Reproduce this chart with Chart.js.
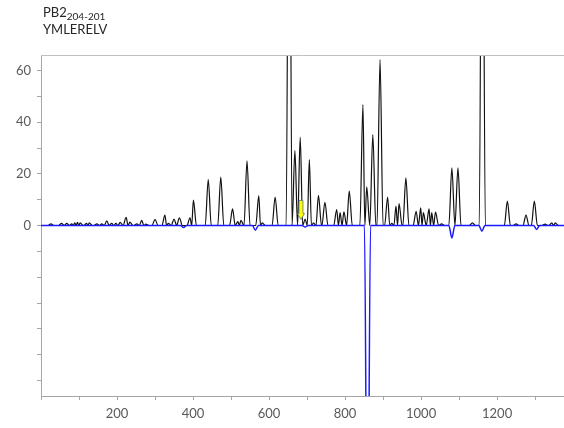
<!DOCTYPE html>
<html><head><meta charset="utf-8">
<script src="https://cdn.jsdelivr.net/npm/chart.js@4/dist/chart.umd.min.js"></script>
<style>
html,body{margin:0;padding:0;background:#fff;}
#wrap{position:relative;width:564px;height:428px;overflow:hidden;}
#title{position:absolute;left:43px;top:4px;font-family:Lato,'Open Sans',sans-serif;font-size:13px;line-height:16px;color:#262626;}
#title .sub{font-size:10px;position:relative;top:3px;}
canvas{position:absolute;left:0;top:0;}
</style></head>
<body><div id="wrap"><canvas id="c" width="564" height="428"></canvas>
<div id="title">PB2<span class="sub">204-201</span><br>YMLERELV</div></div>
<script>
// ---- data ----
const peakPos = [26,54,68,81,89,96,103,120,127,147,160,173,186,197,208,224,234,252,265,276,300,326,335,350,364,392,401,440,473,504,518,526,542,573,582,616,653,668,682,695,706,717,730,747,778,787,797,811,847,857,873,892,912,923,934,942,960,987,999,1006,1021,1028,1038,1054,1081,1097,1135,1161,1227,1250,1276,1298,1326,1344,1353];
const peakHeight = [0.6,0.8,0.8,0.6,1.0,1.2,1.0,0.8,1.0,0.6,0.6,1.8,0.8,0.8,1.2,3.2,1.3,0.6,2.0,0.5,2.4,4.0,0.8,2.5,3.0,3.0,9.8,17.8,18.7,6.4,1.5,2.0,25.0,11.6,1.0,11.0,200,29.0,34.2,2.5,25.5,1.0,11.7,9.0,6.2,5.0,5.3,13.3,46.8,15.0,35.2,64.2,11.0,0.8,7.5,8.5,18.4,5.5,6.8,5.0,6.4,5.0,5.2,0.6,22.3,22.3,1.0,200,9.4,0.6,4.0,9.4,0.5,1.0,1.0];
const dipPos = [375,564,695,859,1081,1160,1304];
const dipDepth = [-0.8,-1.8,-0.6,-150,-4.8,-2.2,-1.5];
const xTicks = [0,100,200,300,400,500,600,700,800,900,1000,1100,1200,1300];
const xLabels = [200,400,600,800,1000,1200];
const yTicks = [-60,-50,-40,-30,-20,-10,0,10,20,30,40,50,60];
const yLabels = [0,20,40,60];
const arrowX = 684, arrowTop = 9.7, arrowBottom = 2.3;

// ---- build traces ----
const HALF = 8, XMIN = 0, XMAX = 1376;
function buildTrace(pos, val){
  const pts = [{x:XMIN,y:0}];
  for(let i=0;i<pos.length;i++){
    const l = pos[i]-HALF, r = pos[i]+HALF;
    const last = pts[pts.length-1];
    if(i>0 && l <= last.x){
      last.x = (pos[i-1]+pos[i])/2; last.y = 0;
    } else {
      pts.push({x:l,y:0});
    }
    pts.push({x:pos[i],y:val[i]});
    pts.push({x:r,y:0});
  }
  pts.push({x:XMAX,y:0});
  return pts;
}

const arrowPlugin = {
  id:'arrow',
  afterDatasetsDraw(chart){
    const {ctx, scales:{x,y}, chartArea} = chart;
    ctx.save();
    ctx.strokeStyle = '#bfbfbf'; ctx.lineWidth = 1;
    ctx.beginPath(); ctx.moveTo(chartArea.left, chartArea.top+0.5); ctx.lineTo(chartArea.right, chartArea.top+0.5); ctx.stroke();
    const cx = x.getPixelForValue(arrowX);
    const yt = y.getPixelForValue(arrowTop), yb = y.getPixelForValue(arrowBottom);
    const hh = 6, sw = 2, hw = 3.5;
    ctx.beginPath();
    ctx.moveTo(cx-sw, yt); ctx.lineTo(cx+sw, yt); ctx.lineTo(cx+sw, yb-hh); ctx.lineTo(cx+hw, yb-hh);
    ctx.lineTo(cx, yb); ctx.lineTo(cx-hw, yb-hh); ctx.lineTo(cx-sw, yb-hh); ctx.closePath();
    ctx.fillStyle = '#ffff00'; ctx.fill();
    ctx.strokeStyle = '#5a7390'; ctx.lineWidth = 0.8; ctx.stroke();
    ctx.restore();
  }
};

Chart.defaults.font.family = "Lato, 'Open Sans', sans-serif";
new Chart(document.getElementById('c'), {
  type:'line',
  data:{datasets:[
    {data:buildTrace(dipPos, dipDepth), borderColor:'#1a1aff', borderWidth:1.5, pointRadius:0, cubicInterpolationMode:'monotone', order:0},
    {data:buildTrace(peakPos, peakHeight), borderColor:'#111111', borderWidth:1.2, pointRadius:0, cubicInterpolationMode:'monotone', order:1}
  ]},
  options:{
    responsive:false, animation:false, devicePixelRatio:1,
    layout:{padding:{top:55,right:0,left:0,bottom:0}},
    plugins:{legend:{display:false}, tooltip:{enabled:false}},
    scales:{
      x:{type:'linear', min:XMIN, max:XMAX,
        afterBuildTicks:s=>{s.ticks = xTicks.map(v=>({value:v}));},
        afterFit:s=>{s.height = 32;},
        grid:{drawOnChartArea:false, drawTicks:true, tickLength:4, color:'#a6a6a6'},
        border:{color:'#a6a6a6', width:1},
        ticks:{autoSkip:false, maxRotation:0, padding:6, color:'#595959', font:{size:13},
          callback:v=>xLabels.includes(v)?String(v):''}
      },
      y:{type:'linear', min:-66, max:66,
        afterBuildTicks:s=>{s.ticks = yTicks.map(v=>({value:v}));},
        afterFit:s=>{s.width = 41;},
        grid:{drawOnChartArea:false, drawTicks:true, tickLength:4, color:'#a6a6a6'},
        border:{color:'#a6a6a6', width:1},
        ticks:{autoSkip:false, padding:6, color:'#595959', font:{size:13},
          callback:v=>yLabels.includes(v)?String(v):''}
      }
    }
  },
  plugins:[arrowPlugin]
});
</script>
</body></html>
